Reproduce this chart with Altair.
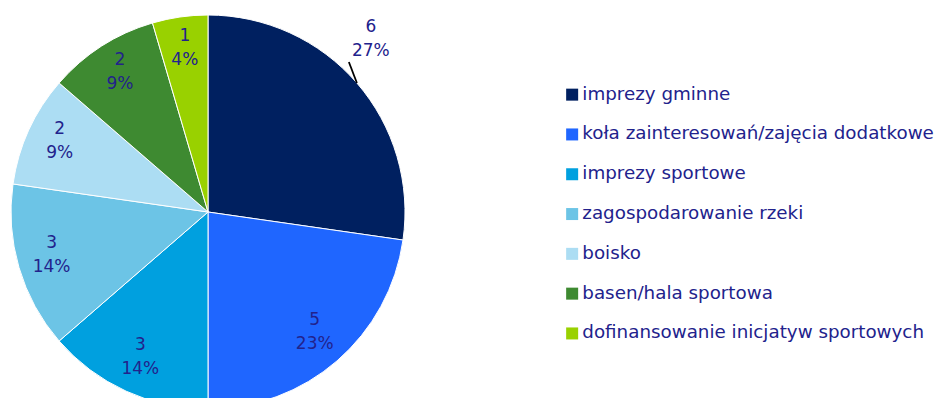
import math
import altair as alt
import pandas as pd

categories = [
    "imprezy gminne",
    "koła zainteresowań/zajęcia dodatkowe",
    "imprezy sportowe",
    "zagospodarowanie rzeki",
    "boisko",
    "basen/hala sportowa",
    "dofinansowanie inicjatyw sportowych",
]
values = [6, 5, 3, 3, 2, 2, 1]
percent_labels = ["27%", "23%", "14%", "14%", "9%", "9%", "4%"]
colors = ["#002060", "#1F66FF", "#00A0DF", "#6CC4E6", "#ACDDF3", "#3E8A31", "#99D100"]

df = pd.DataFrame({
    "cat": categories,
    "value": values,
    "label": [f"{v}\n{p}" for v, p in zip(values, percent_labels)],
    "idx": list(range(len(categories))),
})

total = sum(values)
first_mid = 2 * math.pi * (values[0] / 2) / total

CX, CY, R = 200, 204, 197
TXT = "#22228C"
FONT = "DejaVu Sans"

base = alt.Chart(df).encode(
    theta=alt.Theta("value:Q", stack=True),
    order=alt.Order("idx:O"),
)

pie = base.mark_arc(stroke="white", strokeWidth=1, outerRadius=R).encode(
    x=alt.value(CX), y=alt.value(CY),
    color=alt.Color(
        "cat:N",
        scale=alt.Scale(domain=categories, range=colors),
        sort=None,
        legend=alt.Legend(
            title=None, orient="none", legendX=555, legendY=77.5,
            symbolType="square", symbolSize=144, symbolStrokeWidth=0,
            labelFontSize=18.3, labelFont=FONT, labelColor=TXT,
            rowPadding=20.8, labelOffset=1, labelLimit=500,
        ),
    ),
)

text_style = dict(fontSize=17, font=FONT, color=TXT, lineBreak="\n", align="center",
                  baseline="middle", lineHeight=24)

inner_labels = base.mark_text(dy=-15, **text_style).encode(
    x=alt.value(CX), y=alt.value(CY),
    radius=alt.value(163),
    text="label:N",
    opacity=alt.condition(alt.datum.idx == 0, alt.value(0), alt.value(1)),
)

outer_label = base.mark_text(dx=-14, dy=-32, **text_style).encode(
    x=alt.value(CX), y=alt.value(CY),
    radius=alt.value(234),
    text="label:N",
    opacity=alt.condition(alt.datum.idx == 0, alt.value(1), alt.value(0)),
)

# leader line from the rim of the first slice up toward its label
bx = CX + R * math.sin(first_mid)
by = CY - R * math.cos(first_mid)
leader = alt.Chart(df).transform_filter(alt.datum.idx == 0).mark_rule(
    color="black", strokeWidth=1.8
).encode(
    x=alt.value(bx), y=alt.value(by),
    x2=alt.value(bx - 8), y2=alt.value(by - 21),
)

chart = alt.layer(pie, leader, inner_labels, outer_label).properties(
    width=927, height=390, padding=0,
    autosize=alt.AutoSizeParams(type="none"),
).configure_view(stroke=None)

chart.save("out.html", embed_options={"renderer": "svg", "actions": False})
